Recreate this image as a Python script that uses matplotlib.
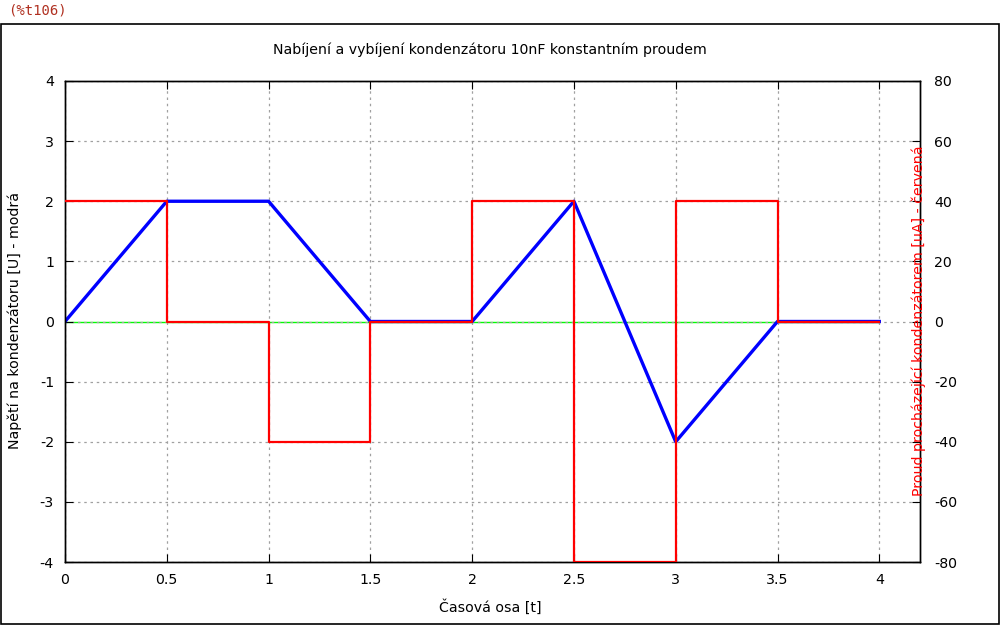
import matplotlib
matplotlib.use("Agg")
import matplotlib.pyplot as plt
from matplotlib.patches import Rectangle

# data
t_voltage = [0, 0.5, 1, 1.5, 2, 2.5, 3, 3.5, 4]
voltage = [0, 2, 2, 0, 0, 2, -2, 0, 0]
t_current = [0, 0.5, 1, 1.5, 2, 2.5, 3, 3.5, 4]
current = [40, 0, -40, 0, 40, -80, 40, 0, 0]
zero_t = [0, 4]
zero_v = [0, 0]
x_ticks = [0, 0.5, 1, 1.5, 2, 2.5, 3, 3.5, 4]
x_tick_labels = ["0", "0.5", "1", "1.5", "2", "2.5", "3", "3.5", "4"]
y_ticks = [-4, -3, -2, -1, 0, 1, 2, 3, 4]
y2_ticks = [-80, -60, -40, -20, 0, 20, 40, 60, 80]

plt.rcParams['font.family'] = ['DejaVu Sans']
W, H = 1002, 625
fig = plt.figure(figsize=(W/100, H/100), dpi=100)

# outer frame
fig.patches.append(Rectangle((0.5/W, 1 - 623.5/H), 998/W, 600/H, transform=fig.transFigure,
                             fill=False, edgecolor='black', linewidth=1.2))
fig.text(8/W, 1 - 11/H, "(%t106)", color='#b03020', fontsize=10, family='DejaVu Sans Mono',
         va='center', ha='left')

L, R, T, B = 65, 920, 81, 562
ax = fig.add_axes([L/W, 1 - B/H, (R-L)/W, (B-T)/H])
ax.set_xlim(0, 4.2)
ax.set_ylim(-4, 4)
ax2 = ax.twinx()
ax2.set_ylim(-80, 80)

ax.plot(zero_t, zero_v, color='#00ff00', linewidth=1.0, zorder=1)
ax.plot(t_voltage, voltage, color='#0000ff', linewidth=2.4, zorder=2)
ax2.step(t_current, current, where='post', color='#ff0000', linewidth=1.6, zorder=3)

for a in (ax, ax2):
    for s in a.spines.values():
        s.set_linewidth(1.0)

FS = 10.2
ax.set_xticks(x_ticks)
ax.set_xticklabels(x_tick_labels)
ax.set_yticks(y_ticks)
ax.set_yticklabels([str(v) for v in y_ticks])
ax2.set_yticks(y2_ticks)
ax2.set_yticklabels([str(v) for v in y2_ticks])
ax.tick_params(axis='x', direction='in', length=6, top=True, labelsize=FS, pad=8, colors='black')
ax.tick_params(axis='y', direction='in', length=6, labelsize=FS, pad=8)
ax2.tick_params(axis='y', direction='in', length=6, labelsize=FS, pad=10)
ax.grid(True, color='#a0a0a0', linestyle=(0, (2, 3)), linewidth=0.9)

fig.text(490/W, 1 - 50/H, "Nabíjení a vybíjení kondenzátoru 10nF konstantním proudem",
         ha='center', va='center', fontsize=FS)
fig.text(490/W, 1 - 607/H, "Časová osa [t]", ha='center', va='center', fontsize=FS)
fig.text(15/W, 1 - 321/H, "Napětí na kondenzátoru [U] - modrá", ha='center', va='center',
         rotation=90, fontsize=FS)
fig.text(919/W, 1 - 321/H, "Proud procházející kondenzátorem [uA] - červená", ha='center',
         va='center', rotation=90, fontsize=FS, color='#ff0000', zorder=10)

fig.savefig("out.png", dpi=100)
